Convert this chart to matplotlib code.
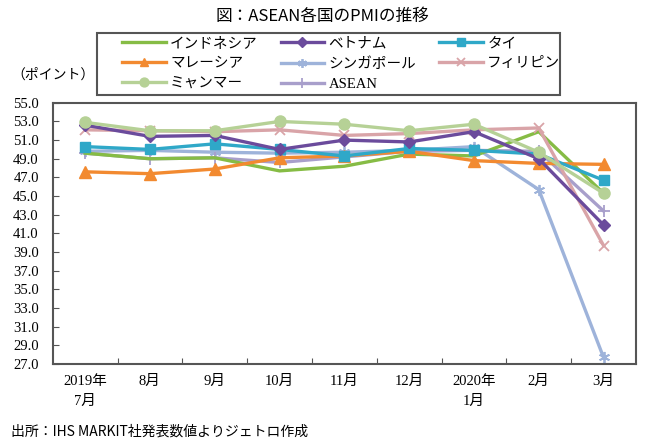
import matplotlib.pyplot as plt
from matplotlib.patches import Rectangle

months = ['2019年\n7月', '8月', '9月', '10月', '11月', '12月', '2020年\n1月', '2月', '3月']

indonesia = [49.6, 49.0, 49.1, 47.7, 48.2, 49.5, 49.3, 51.9, 45.3]
vietnam = [52.6, 51.4, 51.5, 50.0, 51.0, 50.8, 51.9, 49.0, 41.9]
thailand = [50.3, 50.0, 50.6, 50.0, 49.3, 50.1, 49.9, 49.5, 46.7]
malaysia = [47.6, 47.4, 47.9, 49.1, 49.3, 49.8, 48.8, 48.5, 48.4]
singapore = [49.8, 49.9, 49.7, 49.6, 49.7, 49.9, 50.3, 45.7, 27.7]
philippines = [52.1, 52.0, 51.9, 52.1, 51.5, 51.7, 52.1, 52.3, 39.7]
myanmar = [52.9, 52.0, 52.0, 53.0, 52.7, 52.0, 52.7, 49.7, 45.3]
asean = [49.6, 49.0, 49.1, 48.6, 49.2, 49.8, 49.9, 49.8, 43.4]

jp_serif = ['Liberation Serif', 'Noto Sans CJK JP']
jp_sans = ['Noto Sans CJK JP', 'DejaVu Sans']

fig = plt.figure(figsize=(6.45, 4.43), dpi=100)
ax = fig.add_axes([0.0817, 0.1783, 0.9043, 0.5897])
x = list(range(len(months)))

lw = 2.4
ax.plot(x, singapore, color='#9EB3DA', lw=lw, marker=(6, 2, 0), ms=8, mew=1.3, label='シンガポール')
ax.plot(x, asean, color='#A89FCB', lw=lw, marker='+', ms=9, mew=1.3, label='ASEAN')
ax.plot(x, indonesia, color='#86BC45', lw=lw, label='インドネシア')
ax.plot(x, malaysia, color='#F28A30', lw=lw, marker='^', ms=8, label='マレーシア')
ax.plot(x, thailand, color='#2FA8C8', lw=lw, marker='s', ms=7, label='タイ')
ax.plot(x, philippines, color='#D9A4A8', lw=lw, marker='x', ms=7, mew=1.3, label='フィリピン')
ax.plot(x, vietnam, color='#6B4B9C', lw=lw, marker='D', ms=6, label='ベトナム')
ax.plot(x, myanmar, color='#B6D196', lw=lw, marker='o', ms=8, label='ミャンマー')

ax.set_xlim(-0.5, len(months) - 0.5)
ax.set_ylim(27, 55)
ax.set_yticks([27 + 2 * i for i in range(15)])
ax.set_yticklabels(['%.1f' % (27 + 2 * i) for i in range(15)], family=jp_serif, fontsize=10.5)
ax.set_xticks([i + 0.5 for i in range(len(months) - 1)])
ax.set_xticklabels([])
ax.set_xticks(x, minor=True)
ax.set_xticklabels(months, minor=True, family=jp_serif, fontsize=10.5, linespacing=1.7)
ax.tick_params(axis='x', which='major', direction='in', length=4, color='#555555')
ax.tick_params(axis='x', which='minor', length=0, pad=8)
ax.tick_params(axis='y', direction='in', length=4, color='#555555', pad=10)
for s in ax.spines.values():
    s.set_color('#555555')
    s.set_linewidth(1.5)

# legend box drawn separately so the entries can sit with a wider left margin
fig.patches.append(Rectangle((0.1504, 0.7856), 0.7178, 0.14, transform=fig.transFigure,
                             fill=False, edgecolor='#555555', linewidth=1.5))
handles, labels = ax.get_legend_handles_labels()
order = ['インドネシア', 'マレーシア', 'ミャンマー', 'ベトナム', 'シンガポール', 'ASEAN', 'タイ', 'フィリピン']
hl = {l: h for h, l in zip(handles, labels)}
fig.legend([hl[l] for l in order], order, ncol=3, loc='center left', mode='expand',
           bbox_to_anchor=(0.189, 0.7856, 0.68, 0.14), frameon=False,
           handlelength=3.0, handletextpad=0.3, columnspacing=1.0, markerscale=0.8,
           labelspacing=0.45, borderpad=0.0, borderaxespad=0.0,
           prop={'family': jp_serif, 'size': 10.5})

fig.text(0.5, 0.962, '図：ASEAN各国のPMIの推移', ha='center', va='center', family=jp_sans, fontsize=12)
fig.text(0.017, 0.83, '（ポイント）', ha='left', va='center', family=jp_serif, fontsize=10)
fig.text(0.017, 0.026, '出所：IHS MARKIT社発表数値よりジェトロ作成', ha='left', va='center', family=jp_sans, fontsize=10)

fig.savefig('out.png', dpi=100)
